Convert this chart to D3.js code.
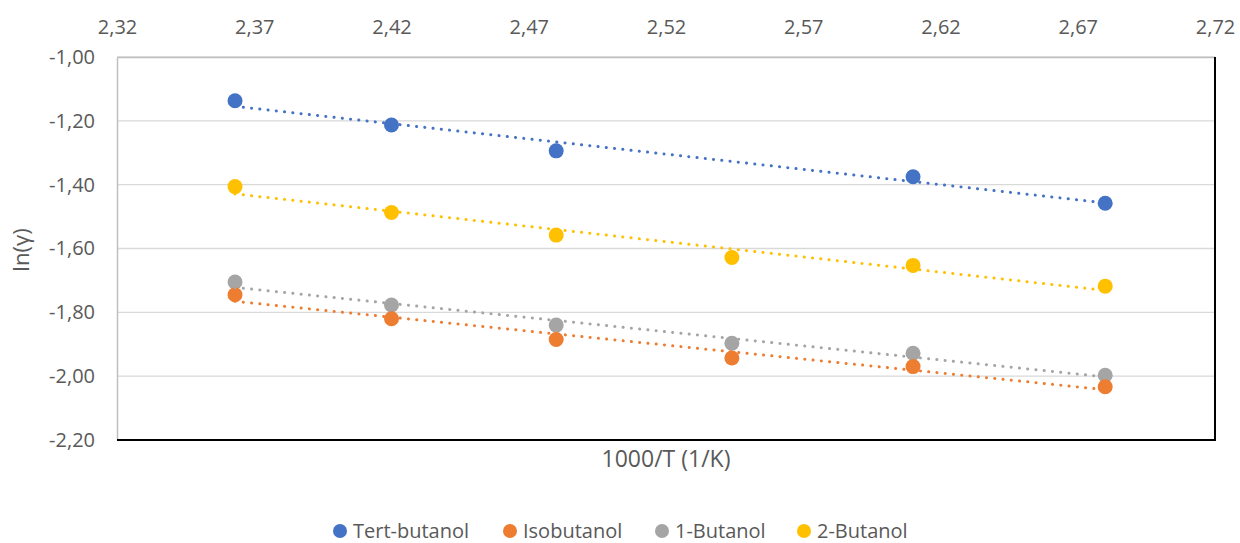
<!DOCTYPE html>
<html>
<head>
<meta charset="utf-8">
<script src="https://cdn.jsdelivr.net/npm/d3@7"></script>
<style>
  body { margin: 0; background: #fff; }
  text { font-family: "Open Sans", sans-serif; fill: #595959; }
</style>
</head>
<body>
<div id="chart"></div>
<script>
// 1000/T values (1/K)
var invT = [2.363, 2.420, 2.480, 2.544, 2.610, 2.680];

var tertButanol = [-1.137, -1.213, -1.294, null, -1.375, -1.458];
var isobutanol  = [-1.745, -1.820, -1.885, -1.943, -1.970, -2.033];
var butanol1    = [-1.705, -1.777, -1.840, -1.897, -1.928, -1.997];
var butanol2    = [-1.406, -1.487, -1.558, -1.628, -1.653, -1.718];

var seriesNames = ["Tert-butanol", "Isobutanol", "1-Butanol", "2-Butanol"];
var seriesColors = ["#4472C4", "#ED7D31", "#A5A5A5", "#FFC000"];

var xTicks = [2.32, 2.37, 2.42, 2.47, 2.52, 2.57, 2.62, 2.67, 2.72];
var yTicks = [-1.00, -1.20, -1.40, -1.60, -1.80, -2.00, -2.20];

var W = 1240, H = 543;
var margin = {top: 57, right: 25, bottom: 103, left: 117};
var width = W - margin.left - margin.right;
var height = H - margin.top - margin.bottom;

var locale = d3.formatLocale({decimal: ",", thousands: ".", grouping: [3], currency: ["", ""], minus: "-"});
var fmt = locale.format(".2f");

var svg = d3.select("#chart").append("svg")
    .attr("width", W)
    .attr("height", H);

var g = svg.append("g")
    .attr("transform", "translate(" + margin.left + "," + margin.top + ")");

var x = d3.scaleLinear().domain([2.32, 2.72]).range([0, width]);
var y = d3.scaleLinear().domain([-2.20, -1.00]).range([height, 0]);

// gridlines
g.append("g").selectAll("line")
    .data(yTicks)
    .enter().append("line")
    .attr("x1", 0).attr("x2", width)
    .attr("y1", function(d) { return y(d); })
    .attr("y2", function(d) { return y(d); })
    .attr("stroke", "#d9d9d9")
    .attr("stroke-width", 1.3);

// axes
var xAxis = g.append("g")
    .call(d3.axisTop(x).tickValues(xTicks).tickFormat(fmt).tickSize(0).tickPadding(23));
xAxis.select(".domain").attr("stroke", "#bfbfbf").attr("stroke-width", 1.5);
xAxis.selectAll("text").style("font-size", "20px").attr("fill", "#595959");

var yAxis = g.append("g")
    .call(d3.axisLeft(y).tickValues(yTicks).tickFormat(fmt).tickSize(0).tickPadding(22));
yAxis.select(".domain").attr("stroke", "#bfbfbf").attr("stroke-width", 1.5);
yAxis.selectAll("text").style("font-size", "20px").attr("fill", "#595959");

// right and bottom border
g.append("path")
    .attr("d", "M" + width + ",0V" + height + "H0")
    .attr("fill", "none")
    .attr("stroke", "#000")
    .attr("stroke-width", 2);

var allSeries = [tertButanol, isobutanol, butanol1, butanol2];

function fit(vals) {
    var pts = [];
    vals.forEach(function(v, i) { if (v != null) pts.push([invT[i], v]); });
    var mx = d3.mean(pts, function(p) { return p[0]; });
    var my = d3.mean(pts, function(p) { return p[1]; });
    var sxy = d3.sum(pts, function(p) { return (p[0] - mx) * (p[1] - my); });
    var sxx = d3.sum(pts, function(p) { return (p[0] - mx) * (p[0] - mx); });
    var b = sxy / sxx, a = my - b * mx;
    var x0 = d3.min(pts, function(p) { return p[0]; });
    var x1 = d3.max(pts, function(p) { return p[0]; });
    return [[x0, a + b * x0], [x1, a + b * x1]];
}

// markers (gray under orange)
var drawOrder = [0, 2, 1, 3];
drawOrder.forEach(function(si) {
    var pts = allSeries[si].map(function(v, i) { return {x: invT[i], y: v}; })
        .filter(function(d) { return d.y != null; });
    g.append("g").selectAll("circle")
        .data(pts)
        .enter().append("circle")
        .attr("cx", function(d) { return x(d.x); })
        .attr("cy", function(d) { return y(d.y); })
        .attr("r", 7.5)
        .attr("fill", seriesColors[si]);
});

// trendlines
var line = d3.line()
    .x(function(d) { return x(d[0]); })
    .y(function(d) { return y(d[1]); });

drawOrder.forEach(function(si) {
    g.append("path")
        .attr("d", line(fit(allSeries[si])))
        .attr("fill", "none")
        .attr("stroke", seriesColors[si])
        .attr("stroke-width", 3)
        .attr("stroke-linecap", "round")
        .attr("stroke-dasharray", "0.1 8.2");
});

// axis titles
svg.append("text")
    .attr("x", margin.left + width / 2)
    .attr("y", 467)
    .attr("text-anchor", "middle")
    .style("font-size", "23px")
    .text("1000/T (1/K)");

svg.append("text")
    .attr("transform", "translate(29,250) rotate(-90)")
    .attr("text-anchor", "middle")
    .style("font-size", "22px")
    .text("ln(γ)");

// legend
var legendX = [340, 510, 662, 804];
var legend = svg.append("g");
seriesNames.forEach(function(name, i) {
    legend.append("circle")
        .attr("cx", legendX[i])
        .attr("cy", 531)
        .attr("r", 7)
        .attr("fill", seriesColors[i]);
    legend.append("text")
        .attr("x", legendX[i] + 13)
        .attr("y", 531)
        .attr("dy", "0.35em")
        .style("font-size", "20px")
        .text(name);
});
</script>
</body>
</html>
